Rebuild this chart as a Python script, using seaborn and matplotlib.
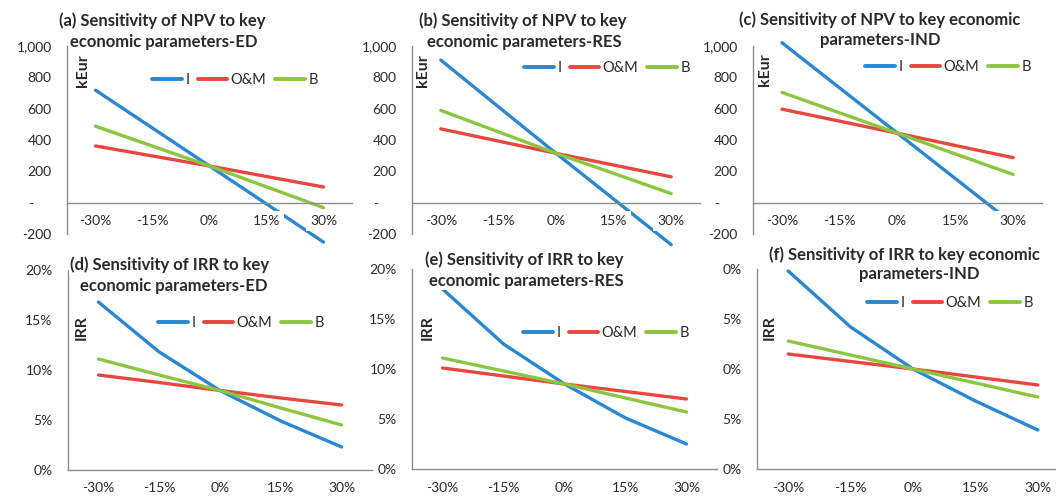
import matplotlib
matplotlib.use("Agg")
import pandas as pd
import matplotlib.pyplot as plt
import seaborn as sns

# 感度分析の折れ線（NPV / IRR）
changes = [-30, -15, 0, 15, 30]
change_labels = ["-30%", "-15%", "0%", "15%", "30%"]
params = ["I", "O&M", "B"]

# NPV [kEur]
npv_ed_i = [718, 476, 234, -8, -252]
npv_ed_om = [362, 298, 234, 167, 100]
npv_ed_b = [488, 361, 234, 101, -32]
npv_res_i = [910, 612, 315, 23, -268]
npv_res_om = [471, 393, 315, 240, 165]
npv_res_b = [589, 452, 315, 187, 58]
npv_ind_i = [1021, 732, 443, 154, -135]
npv_ind_om = [597, 520, 443, 365, 287]
npv_ind_b = [704, 573, 443, 311, 180]
npv_ticks = [-200, 0, 200, 400, 600, 800, 1000]
npv_tick_labels = ["-200", "-     ", "200", "400", "600", "800", "1,000"]

# IRR [%]
irr_ed_i = [16.8, 11.8, 7.95, 4.9, 2.3]
irr_ed_om = [9.5, 8.75, 7.95, 7.2, 6.5]
irr_ed_b = [11.1, 9.5, 7.95, 6.2, 4.5]
irr_res_i = [18.0, 12.5, 8.5, 5.1, 2.5]
irr_res_om = [10.1, 9.3, 8.5, 7.75, 7.0]
irr_res_b = [11.1, 9.8, 8.5, 7.1, 5.7]
irr_ind_i = [19.8, 14.2, 10.0, 6.8, 3.9]
irr_ind_om = [11.5, 10.75, 10.0, 9.2, 8.4]
irr_ind_b = [12.8, 11.4, 10.0, 8.6, 7.2]
irr_ticks = [0, 5, 10, 15, 20]
irr_tick_labels = ["0%", "5%", "10%", "15%", "20%"]
irr_tick_labels_f = ["0%", "5%", "0%", "5%", "0%"]  # 元図では桁が切れている

sns.set_theme(style="white")
plt.rcParams["font.family"] = ["Lato", "DejaVu Sans"]

colors = {"I": "#2b87d1", "O&M": "#e8473f", "B": "#8cc63f"}
axis_color = "#8c8c8c"
text_color = "#2a2a2a"

W, H = 1056, 497
fig = plt.figure(figsize=(W / 100, H / 100), dpi=100)


def long_df(i_vals, om_vals, b_vals):
    rows = []
    for p, vals in zip(params, [i_vals, om_vals, b_vals]):
        for c, v in zip(changes, vals):
            rows.append({"change": c, "value": v, "param": p})
    return pd.DataFrame(rows)


def panel(box, df, title_lines, ylabel, ylabel_xy, legend_xy, kind, yticklabels):
    l, t, r, b = box
    ax = fig.add_axes([l / W, 1 - b / H, (r - l) / W, (b - t) / H])
    ax.patch.set_alpha(0)

    def frac(px, py):
        return (px - l) / (r - l), (b - py) / (b - t)

    sns.lineplot(data=df, x="change", y="value", hue="param", hue_order=params,
                 palette=colors, linewidth=2.4, ax=ax)
    for ln in ax.get_lines():
        ln.set_clip_on(False)
    ax.set_xlim(-37.5, 37.5)
    ax.set_xticks(changes)
    ax.set_xticklabels(change_labels)
    if kind == "npv":
        ax.set_ylim(-200, 1000)
        ax.set_yticks(npv_ticks)
        ax.spines["bottom"].set_position(("data", 0))
    else:
        ax.set_ylim(0, 20)
        ax.set_yticks(irr_ticks)
    ax.set_yticklabels(yticklabels)
    ax.set_xlabel("")
    ax.set_ylabel("")
    for s in ["top", "right"]:
        ax.spines[s].set_visible(False)
    for s in ["left", "bottom"]:
        ax.spines[s].set_color(axis_color)
        ax.spines[s].set_linewidth(1.0)
    ax.set_axisbelow(False)
    ax.tick_params(axis="x", length=0, pad=9, labelsize=10, colors=text_color)
    ax.tick_params(axis="y", length=0, pad=11, labelsize=10, colors=text_color)
    if kind == "npv":
        # 軸ラベルが線の上に白抜きで乗る
        for lab in ax.get_xticklabels():
            lab.set_bbox(dict(facecolor="white", edgecolor="none", pad=3))

    handles, labels = ax.get_legend_handles_labels()
    lg = ax.legend(handles, labels, loc="center", bbox_to_anchor=frac(*legend_xy),
                   ncol=3, frameon=False, handlelength=2.0, handletextpad=0.25,
                   columnspacing=0.6, fontsize=10.5, borderaxespad=0)
    for h in lg.get_lines():
        h.set_linewidth(2.8)
    for txt in lg.get_texts():
        txt.set_color(text_color)

    # タイトルは1行ずつ白背景で置く
    for line, px, py in title_lines:
        tx, ty = frac(px, py)
        ax.text(tx, ty, line, transform=ax.transAxes, ha="center", va="center",
                fontsize=12, fontweight="bold", color=text_color, zorder=6, clip_on=False,
                bbox=dict(facecolor="white", edgecolor="none", pad=1))
    yx, yy = frac(*ylabel_xy)
    ax.text(yx, yy, ylabel, transform=ax.transAxes, rotation=90, ha="center", va="center",
            fontsize=11.5, fontweight="bold", color=text_color, zorder=6)
    return ax


# 上段: NPV
panel((67, 46, 352, 234), long_df(npv_ed_i, npv_ed_om, npv_ed_b),
      [("(a) Sensitivity of NPV to key", 162, 21), ("economic parameters-ED", 164, 42)],
      "kEur", (83, 71), (235, 80), "npv", npv_tick_labels)
panel((412, 46, 700, 234), long_df(npv_res_i, npv_res_om, npv_res_b),
      [("(b) Sensitivity of NPV to key", 523, 21), ("economic parameters-RES", 524, 42)],
      "kEur", (423, 71), (607, 68), "npv", npv_tick_labels)
panel((753, 46, 1042, 234), long_df(npv_ind_i, npv_ind_om, npv_ind_b),
      [("(c) Sensitivity of NPV to key economic", 880, 20), ("parameters-IND", 880, 40)],
      "kEur", (765, 70), (948, 67), "npv", npv_tick_labels)

# 下段: IRR
panel((68, 270, 372, 470), long_df(irr_ed_i, irr_ed_om, irr_ed_b),
      [("(d) Sensitivity of IRR to key", 170, 265), ("economic parameters-ED", 174, 286)],
      "IRR", (82, 328), (241, 323), "irr", irr_tick_labels)
panel((412, 269, 717, 469), long_df(irr_res_i, irr_res_om, irr_res_b),
      [("(e) Sensitivity of IRR to key", 524, 260), ("economic parameters-RES", 526, 281)],
      "IRR", (428, 328), (606, 333), "irr", irr_tick_labels)
panel((757, 269, 1069, 469), long_df(irr_ind_i, irr_ind_om, irr_ind_b),
      [("(f) Sensitivity of IRR to key economic", 904, 255), ("parameters-IND", 919, 274)],
      "IRR", (770, 328), (950, 303), "irr", irr_tick_labels_f)

fig.savefig("out.png", dpi=100)
